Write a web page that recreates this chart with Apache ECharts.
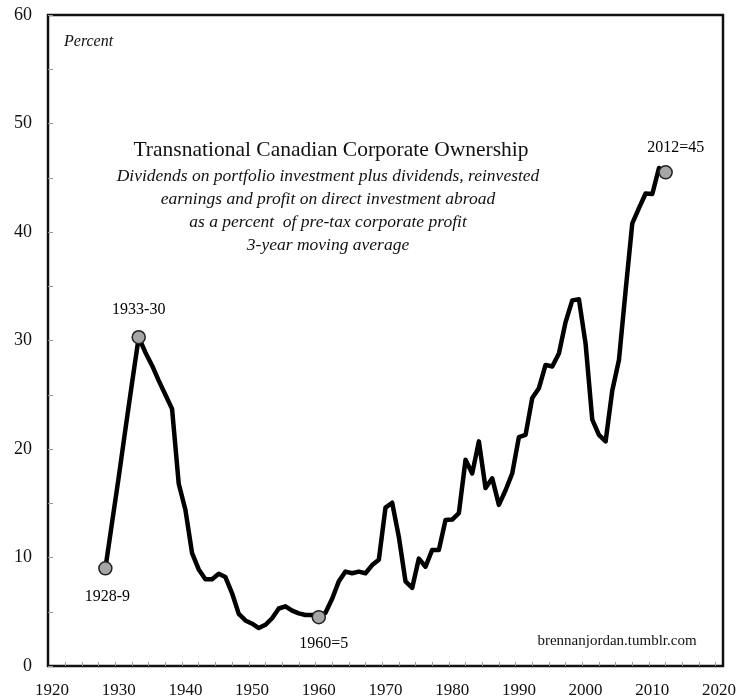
<!DOCTYPE html>
<html>
<head>
<meta charset="utf-8">
<script src="https://cdn.jsdelivr.net/npm/echarts@6/dist/echarts.min.js"></script>
<style>
  html, body { margin: 0; padding: 0; background: #fff; }
  #chart { width: 740px; height: 700px; }
</style>
</head>
<body>
<div id="chart"></div>
<script>
// yearly values, 3-year moving average, percent
const years = [
  1928, 1929, 1930, 1931, 1932, 1933, 1934, 1935, 1936, 1937,
  1938, 1939, 1940, 1941, 1942, 1943, 1944, 1945, 1946, 1947,
  1948, 1949, 1950, 1951, 1952, 1953, 1954, 1955, 1956, 1957,
  1958, 1959, 1960, 1961, 1962, 1963, 1964, 1965, 1966, 1967,
  1968, 1969, 1970, 1971, 1972, 1973, 1974, 1975, 1976, 1977,
  1978, 1979, 1980, 1981, 1982, 1983, 1984, 1985, 1986, 1987,
  1988, 1989, 1990, 1991, 1992, 1993, 1994, 1995, 1996, 1997,
  1998, 1999, 2000, 2001, 2002, 2003, 2004, 2005, 2006, 2007,
  2008, 2009, 2010, 2011, 2012
]
const values = [
  9.0, 13.2, 17.4, 21.8, 26.1, 30.3, 28.9, 27.7, 26.3, 25.0,
  23.7, 16.8, 14.4, 10.4, 8.9, 8.0, 8.0, 8.5, 8.2, 6.7,
  4.8, 4.2, 3.9, 3.5, 3.8, 4.4, 5.3, 5.5, 5.1, 4.85,
  4.7, 4.7, 4.5, 4.9, 6.2, 7.8, 8.7, 8.55, 8.7, 8.55,
  9.3, 9.8, 14.6, 15.05, 11.9, 7.8, 7.2, 9.9, 9.15, 10.7,
  10.7, 13.45, 13.5, 14.1, 19.0, 17.75, 20.7, 16.4, 17.3, 14.85,
  16.2, 17.75, 21.1, 21.3, 24.7, 25.6, 27.75, 27.6, 28.8, 31.7,
  33.7, 33.8, 29.7, 22.7, 21.3, 20.7, 25.4, 28.2, 34.6, 40.8,
  42.2, 43.55, 43.5, 45.9, 45.5
]

// highlighted points and their labels
const markYears = [1928, 1933, 1960, 2012]
const markLabels = ['1928-9', '1933-30', '1960=5', '2012=45']

const xLabelValues = [1920, 1930, 1940, 1950, 1960, 1970, 1980, 1990, 2000, 2010, 2020]
const xTickValues = []
for (let i = 0; i < 40; i++) xTickValues.push(1922 + i * 2.5)

const titleText = 'Transnational Canadian Corporate Ownership'
const subtitleLines = [
  'Dividends on portfolio investment plus dividends, reinvested',
  'earnings and profit on direct investment abroad',
  'as a percent  of pre-tax corporate profit',
  '3-year moving average'
]

const serif = '"Liberation Serif", "DejaVu Serif", serif'

const lineData = years.map((y, i) => [y, values[i]])
const labelPlace = {
  1928: { position: 'bottom', distance: 13, offset: [2, 0] },
  1933: { position: 'top', distance: 12, offset: [0, 0] },
  1960: { position: 'bottom', distance: 11, offset: [5, 0] },
  2012: { position: 'top', distance: 9, offset: [10, 0] }
}
const markData = markYears.map((y, i) => ({
  value: [y, values[years.indexOf(y)]],
  label: Object.assign({ show: true, formatter: markLabels[i] }, labelPlace[y])
}))

const chart = echarts.init(document.getElementById('chart'))

const option = {
  animation: false,
  backgroundColor: '#fff',
  textStyle: { fontFamily: serif },
  grid: {
    left: 48,
    right: 17,
    top: 15,
    bottom: 34,
    show: true,
    borderColor: '#111',
    borderWidth: 2.5,
    backgroundColor: 'transparent'
  },
  xAxis: {
    type: 'value',
    min: 1919.4,
    max: 2020.6,
    axisLine: { show: false },
    splitLine: { show: false },
    axisTick: {
      show: true,
      inside: true,
      length: 4,
      customValues: xTickValues,
      lineStyle: { color: '#9a9a9a', width: 1 }
    },
    axisLabel: {
      customValues: xLabelValues,
      formatter: v => String(v),
      margin: 16,
      color: '#111',
      fontSize: 17,
      fontFamily: serif
    }
  },
  yAxis: {
    type: 'value',
    min: 0,
    max: 60,
    interval: 10,
    axisLine: { show: false },
    splitLine: { show: false },
    axisTick: {
      show: true,
      inside: true,
      length: 5,
      lineStyle: { color: '#9a9a9a', width: 1 }
    },
    minorTick: {
      show: true,
      splitNumber: 2,
      length: 5,
      lineStyle: { color: '#9a9a9a', width: 1 }
    },
    axisLabel: {
      margin: 16,
      padding: [6, 0, 0, 0],
      color: '#111',
      fontSize: 18,
      fontFamily: serif
    }
  },
  series: [
    {
      type: 'line',
      data: lineData,
      showSymbol: false,
      lineStyle: { color: '#000', width: 4.5, join: 'round', cap: 'round' },
      z: 2
    },
    {
      type: 'scatter',
      data: markData,
      symbolSize: 13,
      itemStyle: { color: '#a6a6a6', borderColor: '#222', borderWidth: 1.5, opacity: 1 },
      label: { color: '#000', fontSize: 16, fontFamily: serif },
      emphasis: { disabled: true },
      z: 3
    }
  ],
  graphic: [
    {
      type: 'text',
      left: 64,
      top: 34,
      style: { text: 'Percent', font: 'italic 16px ' + serif, fill: '#111' }
    },
    {
      type: 'text',
      x: 331,
      y: 150,
      style: {
        text: titleText,
        font: '21.5px ' + serif,
        fill: '#111',
        align: 'center',
        verticalAlign: 'middle'
      }
    },
    {
      type: 'text',
      x: 328,
      y: 165,
      style: {
        text: subtitleLines.join('\n'),
        font: 'italic 17.5px ' + serif,
        lineHeight: 23,
        fill: '#111',
        align: 'center',
        verticalAlign: 'top'
      }
    },
    {
      type: 'text',
      x: 617,
      y: 641,
      style: {
        text: 'brennanjordan.tumblr.com',
        font: '15px ' + serif,
        fill: '#111',
        align: 'center',
        verticalAlign: 'middle'
      }
    }
  ]
}

chart.setOption(option)
</script>
</body>
</html>
